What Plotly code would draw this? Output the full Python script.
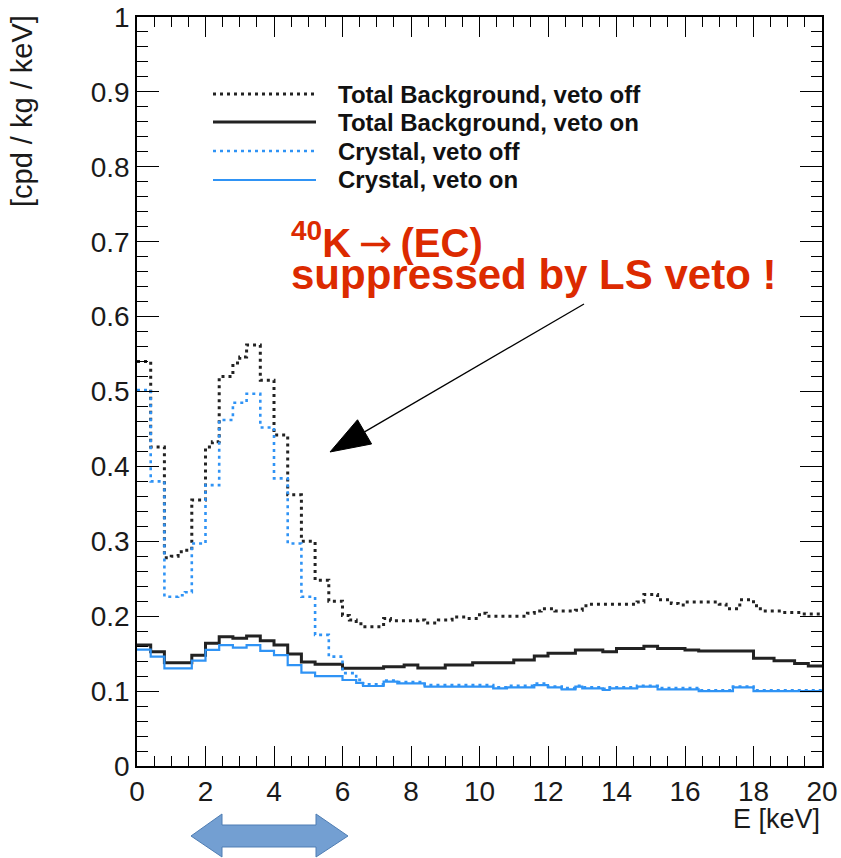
import numpy as np
import plotly.graph_objects as go

# ---------------- data ----------------
bin_width_keV = 0.2
n_bins = 100
energy_edges = [round(i * bin_width_keV, 1) for i in range(n_bins + 1)]

total_veto_off = [
    0.540, 0.540, 0.426, 0.426, 0.278, 0.280, 0.286, 0.288, 0.355, 0.355,
    0.426, 0.433, 0.520, 0.520, 0.538, 0.546, 0.562, 0.562, 0.515, 0.515,
    0.442, 0.442, 0.362, 0.362, 0.300, 0.300, 0.248, 0.248, 0.220, 0.220,
    0.201, 0.195, 0.190, 0.186, 0.186, 0.186, 0.197, 0.194, 0.194, 0.194,
    0.194, 0.195, 0.191, 0.191, 0.195, 0.195, 0.199, 0.199, 0.197, 0.197,
    0.204, 0.200, 0.200, 0.200, 0.200, 0.200, 0.200, 0.204, 0.207, 0.210,
    0.210, 0.207, 0.207, 0.207, 0.208, 0.214, 0.216, 0.216, 0.216, 0.216,
    0.216, 0.216, 0.216, 0.219, 0.229, 0.229, 0.222, 0.222, 0.217, 0.215,
    0.219, 0.219, 0.219, 0.219, 0.219, 0.216, 0.210, 0.210, 0.222, 0.222,
    0.214, 0.207, 0.207, 0.207, 0.205, 0.205, 0.205, 0.203, 0.203, 0.203,
]

total_veto_on = [
    0.1615, 0.1615, 0.1526, 0.1526, 0.138, 0.138, 0.138, 0.138, 0.148, 0.148,
    0.1638, 0.1638, 0.1726, 0.1726, 0.1705, 0.1705, 0.1736, 0.1736, 0.1673, 0.1673,
    0.1615, 0.1615, 0.1495, 0.1495, 0.139, 0.139, 0.136, 0.136, 0.136, 0.136,
    0.1304, 0.1304, 0.1304, 0.1304, 0.1304, 0.1304, 0.1326, 0.1326, 0.1326, 0.1348,
    0.1348, 0.131, 0.131, 0.131, 0.131, 0.1348, 0.1348, 0.1348, 0.1348, 0.138,
    0.138, 0.138, 0.138, 0.138, 0.138, 0.1415, 0.1415, 0.1415, 0.147, 0.147,
    0.1505, 0.1505, 0.1505, 0.1505, 0.155, 0.155, 0.155, 0.155, 0.1526, 0.1526,
    0.157, 0.157, 0.157, 0.157, 0.160, 0.160, 0.157, 0.157, 0.157, 0.157,
    0.155, 0.155, 0.1535, 0.1535, 0.1535, 0.1535, 0.1535, 0.1535, 0.1535, 0.1535,
    0.1438, 0.1438, 0.1438, 0.1406, 0.1406, 0.1406, 0.137, 0.137, 0.1335, 0.1335,
]

crystal_veto_off = [
    0.502, 0.502, 0.380, 0.380, 0.226, 0.226, 0.228, 0.232, 0.297, 0.297,
    0.375, 0.375, 0.462, 0.462, 0.485, 0.485, 0.497, 0.497, 0.452, 0.452,
    0.384, 0.384, 0.297, 0.297, 0.226, 0.226, 0.175, 0.175, 0.146, 0.146,
    0.124, 0.124, 0.115, 0.109, 0.109, 0.109, 0.114, 0.114, 0.112, 0.112,
    0.112, 0.112, 0.108, 0.108, 0.108, 0.108, 0.108, 0.108, 0.108, 0.108,
    0.108, 0.108, 0.105, 0.105, 0.107, 0.107, 0.107, 0.107, 0.110, 0.110,
    0.106, 0.106, 0.104, 0.104, 0.107, 0.105, 0.105, 0.105, 0.103, 0.105,
    0.105, 0.105, 0.105, 0.107, 0.107, 0.107, 0.104, 0.104, 0.104, 0.104,
    0.104, 0.104, 0.101, 0.101, 0.101, 0.101, 0.101, 0.106, 0.106, 0.106,
    0.101, 0.101, 0.101, 0.101, 0.101, 0.101, 0.101, 0.101, 0.101, 0.101,
]

crystal_veto_on = [
    0.1555, 0.1555, 0.146, 0.146, 0.1304, 0.1304, 0.1304, 0.1304, 0.1406, 0.1406,
    0.155, 0.155, 0.1615, 0.1615, 0.158, 0.158, 0.1615, 0.1615, 0.1536, 0.1536,
    0.148, 0.148, 0.1348, 0.1348, 0.1246, 0.1246, 0.120, 0.120, 0.120, 0.120,
    0.1148, 0.1148, 0.111, 0.1068, 0.1068, 0.1068, 0.1126, 0.1126, 0.1104, 0.1104,
    0.1104, 0.1104, 0.106, 0.106, 0.106, 0.106, 0.106, 0.106, 0.106, 0.106,
    0.106, 0.106, 0.1037, 0.1037, 0.105, 0.105, 0.105, 0.105, 0.108, 0.108,
    0.105, 0.105, 0.1024, 0.1024, 0.106, 0.1037, 0.1037, 0.1037, 0.1015, 0.1037,
    0.1037, 0.1037, 0.1037, 0.106, 0.106, 0.106, 0.1024, 0.1024, 0.1024, 0.1024,
    0.1024, 0.1024, 0.100, 0.100, 0.100, 0.100, 0.100, 0.105, 0.105, 0.105,
    0.100, 0.100, 0.100, 0.100, 0.100, 0.100, 0.100, 0.100, 0.100, 0.100,
]

for s in (total_veto_off, total_veto_on, crystal_veto_off, crystal_veto_on):
    assert len(s) == n_bins

BLUE = "#2f93f5"
series = [
    ("Total Background, veto off", total_veto_off, "#222222", "3px,4px", 3.0),
    ("Total Background, veto on", total_veto_on, "#222222", "solid", 3.0),
    ("Crystal, veto on", crystal_veto_on, BLUE, "solid", 2.2),
    ("Crystal, veto off", crystal_veto_off, BLUE, "3px,4px", 2.6),
]
legend_order = [
    ("Total Background, veto off", "#222222", "3px,4px", 3.0),
    ("Total Background, veto on", "#222222", "solid", 3.0),
    ("Crystal, veto off", BLUE, "3px,4px", 2.6),
    ("Crystal, veto on", BLUE, "solid", 2.2),
]

# ---------------- layout geometry ----------------
W, H = 841, 858
L, R, T, B = 137, 19, 17, 92
PW, PH = W - L - R, H - T - B


def px(x):
    return (x - L) / PW


def py(y):
    return (H - B - y) / PH


FONT = "Liberation Sans, Arial, Helvetica, sans-serif"

fig = go.Figure()
for name, vals, color, dash, w in series:
    fig.add_trace(go.Scatter(
        x=energy_edges, y=list(vals) + [vals[-1]],
        mode="lines", line=dict(shape="hv", color=color, dash=dash, width=w),
        name=name, showlegend=False, hoverinfo="skip",
    ))

shapes = []
annotations = []

# manual legend
legend_rows = [94, 122, 151, 180]
for (name, color, dash, w), ry in zip(legend_order, legend_rows):
    shapes.append(dict(type="line", xref="paper", yref="paper",
                       x0=px(213), x1=px(316), y0=py(ry), y1=py(ry),
                       line=dict(color=color, width=w, dash=dash)))
    annotations.append(dict(xref="paper", yref="paper", x=px(336), y=py(ry),
                            xanchor="left", yanchor="middle", showarrow=False,
                            text="<b>%s</b>" % name,
                            font=dict(family=FONT, size=24, color="#111111")))

# red annotation text
RED = "#dc2a00"
annotations.append(dict(xref="paper", yref="paper", x=px(289), y=py(240),
                        xanchor="left", yanchor="middle", showarrow=False,
                        text="<b><sup>40</sup>K</b><span style='font-family:DejaVu Sans'>\u2009→\u2009</span><b>(EC)</b>",
                        font=dict(family=FONT, size=40, color=RED)))
annotations.append(dict(xref="paper", yref="paper", x=px(289), y=py(274),
                        xanchor="left", yanchor="middle", showarrow=False,
                        text="<b>suppressed by LS veto !</b>",
                        font=dict(family=FONT, size=42, color=RED)))

# black pointer arrow
tip = np.array([330.0, 452.0])
tail = np.array([584.0, 304.0])
u = (tail - tip) / np.linalg.norm(tail - tip)
perp = np.array([u[1], -u[0]])
base = tip + 40 * u
b1 = base + 14 * perp
b2 = base - 14 * perp
shapes.append(dict(type="line", xref="paper", yref="paper",
                   x0=px(base[0]), y0=py(base[1]), x1=px(tail[0]), y1=py(tail[1]),
                   line=dict(color="black", width=1.3)))
shapes.append(dict(type="path", xref="paper", yref="paper",
                   path="M %f %f L %f %f L %f %f Z" % (px(tip[0]), py(tip[1]),
                                                       px(b1[0]), py(b1[1]),
                                                       px(b2[0]), py(b2[1])),
                   fillcolor="black", line=dict(color="black", width=1)))

# blue double arrow below the axis
pts = [(191, 836), (222, 814), (222, 825), (316, 825), (316, 814), (348, 836),
       (316, 857), (316, 847), (222, 847), (222, 857)]
path = "M " + " L ".join("%f %f" % (px(a), py(b)) for a, b in pts) + " Z"
shapes.append(dict(type="path", xref="paper", yref="paper", path=path,
                   fillcolor="#739fd2", line=dict(color="#4f7db3", width=1)))

# axis titles
annotations.append(dict(xref="paper", yref="paper", x=1.0, y=py(819),
                        xanchor="right", yanchor="middle", showarrow=False,
                        text="E [keV]", font=dict(family=FONT, size=27, color="#1a1a1a")))
annotations.append(dict(xref="paper", yref="paper", x=px(22), y=py(13),
                        xanchor="center", yanchor="top", showarrow=False, textangle=-90,
                        text="[cpd / kg / keV]", font=dict(family=FONT, size=29, color="#1a1a1a")))

axis_common = dict(showgrid=False, zeroline=False, showline=True, linecolor="black",
                   linewidth=1.5, mirror="allticks", ticks="inside", tickcolor="black",
                   tickwidth=1.2, automargin=False,
                   tickfont=dict(family=FONT, size=28, color="#1a1a1a"))

fig.update_layout(
    width=W, height=H, margin=dict(l=L, r=R, t=T, b=B, pad=0, autoexpand=False),
    paper_bgcolor="white", plot_bgcolor="white", showlegend=False,
    xaxis=dict(range=[0, 20], tick0=0, dtick=2, ticklen=20,
               minor=dict(ticks="inside", ticklen=10, dtick=0.5, tickcolor="black", tickwidth=1.2),
               **axis_common),
    yaxis=dict(range=[0, 1], tick0=0, dtick=0.1, ticklen=22,
               minor=dict(ticks="inside", ticklen=11, dtick=0.02, tickcolor="black", tickwidth=1.2),
               **axis_common),
    shapes=shapes, annotations=annotations,
)

fig.write_html("out.html")
